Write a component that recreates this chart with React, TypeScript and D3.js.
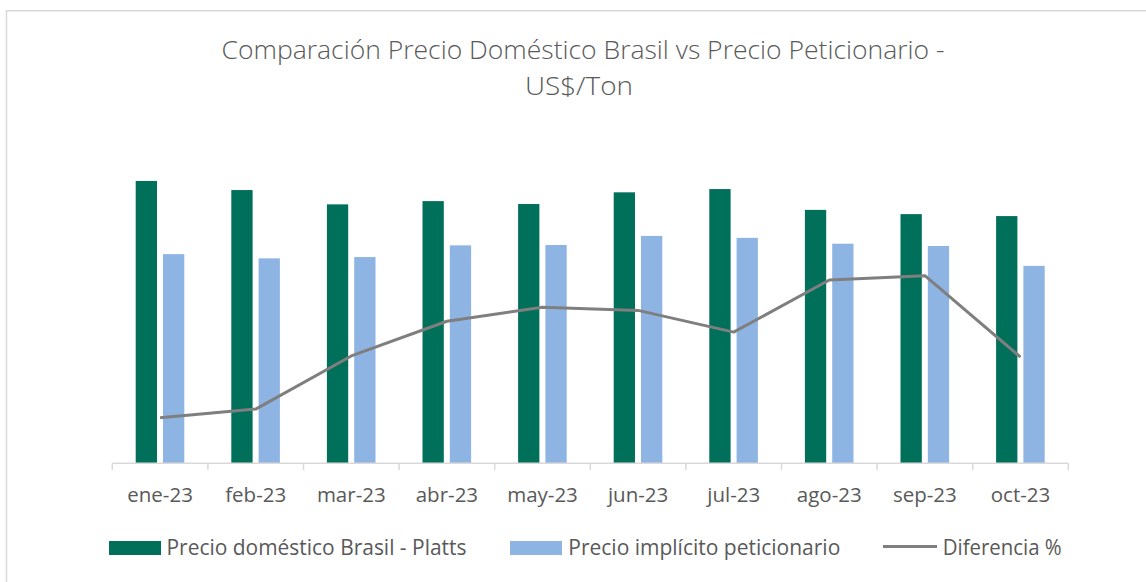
import React from "react";
import * as d3 from "d3";

const categories = ["ene-23", "feb-23", "mar-23", "abr-23", "may-23", "jun-23", "jul-23", "ago-23", "sep-23", "oct-23"];
const precioBrasil = [868, 840, 796, 806, 797, 833, 843, 779, 766, 760];
const precioPeticionario = [643, 630, 634, 670, 671, 699, 693, 675, 668, 607];
const diferenciaPct = [-25.8, -25.0, -20.1, -16.9, -15.6, -15.9, -17.9, -13.1, -12.7, -20.2];
const seriesNames = ["Precio doméstico Brasil - Platts", "Precio implícito peticionario", "Diferencia %"];
const titleLines = ["Comparación Precio Doméstico Brasil vs Precio Peticionario -", "US$/Ton"];

const W = 1146;
const H = 582;
const GREEN = "#00705A";
const BLUE = "#8EB4E3";
const GRAY = "#7F7F7F";
const TEXT = "#595959";
const FONT = "'Open Sans', 'Noto Sans', sans-serif";

export default function App() {
  const x = d3.scaleBand<string>().domain(categories).range([112.3, 1068.3]).paddingInner(0).paddingOuter(0);
  const sub = d3.scaleBand<string>().domain(["g", "b"]).range([23.4, 72]).paddingInner(0.22).paddingOuter(0);
  const yL = d3.scaleLinear().domain([0, 1000]).range([463.3, 138]);
  const yR = d3.scaleLinear().domain([-30, 0]).range([463.3, 138]);
  const line = d3
    .line<number>()
    .x((_, i) => (x(categories[i]) as number) + x.bandwidth() / 2)
    .y((d) => yR(d));

  const ticks = categories.map((c) => x(c) as number).concat([(x(categories[categories.length - 1]) as number) + x.bandwidth()]);

  return (
    <svg width={W} height={H} style={{ position: "absolute", left: 0, top: 0, background: "#fff" }} fontFamily={FONT}>
      <rect x={0} y={0} width={W} height={H} fill="#fff" />
      <rect x={6.5} y={10.75} width={1160} height={620} fill="none" stroke="#d9d9d9" strokeWidth={1.5} />
      <text x={583} y={59} textAnchor="middle" fontSize={25} fontWeight={300} fill={TEXT} textLength={723} lengthAdjust="spacingAndGlyphs">
        {titleLines[0]}
      </text>
      <text x={579} y={95} textAnchor="middle" fontSize={25} fontWeight={300} fill={TEXT} textLength={108} lengthAdjust="spacingAndGlyphs">
        {titleLines[1]}
      </text>

      {categories.map((c, i) => (
        <g key={c}>
          <rect
            x={(x(c) as number) + (sub("g") as number)}
            y={yL(precioBrasil[i])}
            width={sub.bandwidth()}
            height={yL(0) - yL(precioBrasil[i])}
            fill={GREEN}
          />
          <rect
            x={(x(c) as number) + (sub("b") as number)}
            y={yL(precioPeticionario[i])}
            width={sub.bandwidth()}
            height={yL(0) - yL(precioPeticionario[i])}
            fill={BLUE}
          />
        </g>
      ))}

      <line x1={112.3} x2={1068.3} y1={463.3} y2={463.3} stroke="#d9d9d9" strokeWidth={1.5} />
      {ticks.map((t, i) => (
        <line key={i} x1={t} x2={t} y1={463.3} y2={470} stroke="#d9d9d9" strokeWidth={1.5} />
      ))}

      <path d={line(diferenciaPct) || ""} fill="none" stroke={GRAY} strokeWidth={3} strokeLinejoin="round" />

      {categories.map((c) => (
        <text key={c} x={(x(c) as number) + x.bandwidth() / 2} y={502} textAnchor="middle" fontSize={20.5} fill={TEXT}>
          {c}
        </text>
      ))}

      <rect x={109} y={541} width={52} height={14} fill={GREEN} />
      <text x={166.5} y={555} fontSize={21} fill={TEXT} textLength={300} lengthAdjust="spacingAndGlyphs">
        {seriesNames[0]}
      </text>
      <rect x={510} y={541} width={52} height={14} fill={BLUE} />
      <text x={568.3} y={555} fontSize={21} fill={TEXT} textLength={272} lengthAdjust="spacingAndGlyphs">
        {seriesNames[1]}
      </text>
      <line x1={883} x2={937} y1={546.5} y2={546.5} stroke={GRAY} strokeWidth={3} />
      <text x={942.7} y={555} fontSize={21} fill={TEXT} textLength={119} lengthAdjust="spacingAndGlyphs">
        {seriesNames[2]}
      </text>
    </svg>
  );
}
